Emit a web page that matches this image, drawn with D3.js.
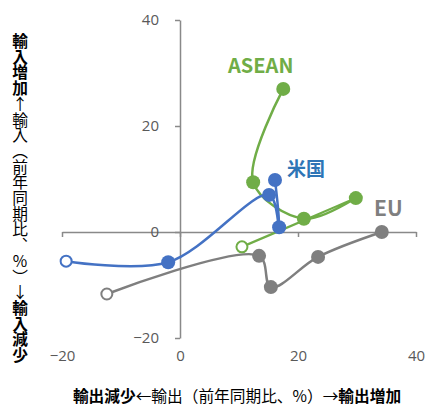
<!DOCTYPE html>
<html>
<head>
<meta charset="utf-8">
<script src="https://cdn.jsdelivr.net/npm/d3@7/dist/d3.min.js"></script>
<style>
  body { margin: 0; background: #fff; }
  svg text { font-family: "Noto Sans CJK JP", "Noto Sans", sans-serif; }
</style>
</head>
<body>
<div id="chart"></div>
<script>
// values (x: export yoy %, y: import yoy %), oldest first
const euX = [-12.4, 13.4, 15.4, 23.4, 34.2];
const euY = [-11.7, -4.5, -10.4, -4.7, 0.0];

const aseanX = [10.5, 29.8, 21.0, 12.4, 17.5];
const aseanY = [-2.8, 6.4, 2.5, 9.4, 27.0];

const usX = [-19.3, -2.0, 15.1, 16.8, 16.1];
const usY = [-5.5, -5.7, 7.0, 0.9, 9.8];

const ticks = [-20, 0, 20, 40];

const series = [
    { name: "EU", xs: euX, ys: euY, color: "#7f7f7f", label: "#7f7f7f", lx: 374, ly: 216, size: 21 },
    { name: "ASEAN", xs: aseanX, ys: aseanY, color: "#70ad47", label: "#70ad47", lx: 228, ly: 73, size: 20 },
    { name: "米国", xs: usX, ys: usY, color: "#4472c4", label: "#2e75b6", lx: 287, ly: 176, size: 19 }
];

const width = 426, height = 407;

const x = d3.scaleLinear().domain([-20, 40]).range([62, 416]);
const y = d3.scaleLinear().domain([-20, 40]).range([338, 20]);

const svg = d3.select("#chart").append("svg")
    .attr("width", width)
    .attr("height", height);

// x axis line through y = 0, ticks pointing down
svg.append("g")
    .attr("transform", "translate(0," + y(0) + ")")
    .call(d3.axisBottom(x).tickValues(ticks).tickSize(5).tickSizeOuter(0).tickFormat(""));

// x tick labels sit below the plot
const xLabels = svg.append("g")
    .attr("transform", "translate(0," + y(-20) + ")")
    .call(d3.axisBottom(x).tickValues(ticks).tickSize(0).tickPadding(12));
xLabels.select(".domain").remove();

// y axis line through x = 0
svg.append("g")
    .attr("transform", "translate(" + x(0) + ",0)")
    .call(d3.axisLeft(y).tickValues(ticks).tickSize(5).tickSizeOuter(0).tickPadding(16));

svg.selectAll(".domain, .tick line")
    .attr("stroke", "#898989")
    .attr("stroke-width", 1.5);
svg.selectAll(".tick text")
    .attr("fill", "#595959")
    .style("font-size", "15px")
    .style("font-family", "'Open Sans', 'Noto Sans', sans-serif");

const line = d3.line()
    .x(d => x(d[0]))
    .y(d => y(d[1]))
    .curve(d3.curveCatmullRom.alpha(0.5));

series.forEach(function (s) {
    const pts = s.xs.map((v, i) => [v, s.ys[i]]);

    svg.append("path")
        .attr("d", line(pts))
        .attr("fill", "none")
        .attr("stroke", s.color)
        .attr("stroke-width", 2.5);

    svg.selectAll(null)
        .data(pts)
        .enter().append("circle")
        .attr("cx", d => x(d[0]))
        .attr("cy", d => y(d[1]))
        .attr("r", (d, i) => i === 0 ? 5.5 : 7)
        .attr("fill", (d, i) => i === 0 ? "#fff" : s.color)
        .attr("stroke", s.color)
        .attr("stroke-width", (d, i) => i === 0 ? 2 : 0);

    svg.append("text")
        .attr("x", s.lx)
        .attr("y", s.ly)
        .attr("fill", s.label)
        .style("font-size", s.size + "px")
        .style("font-weight", "bold")
        .text(s.name);
});

// axis titles
const yTitle = svg.append("text")
    .attr("x", 20)
    .attr("y", 33)
    .attr("fill", "#000")
    .style("writing-mode", "vertical-rl")
    .style("text-orientation", "upright")
    .style("font-size", "15.7px");
yTitle.append("tspan").style("font-weight", "bold").text("輸入増加");
yTitle.append("tspan").text("↑輸入（前年同期比、%）↓");
yTitle.append("tspan").style("font-weight", "bold").text("輸入減少");

const xTitle = svg.append("text")
    .attr("x", 237)
    .attr("y", 402)
    .attr("text-anchor", "middle")
    .attr("fill", "#000")
    .style("font-size", "15.7px");
xTitle.append("tspan").style("font-weight", "bold").text("輸出減少");
xTitle.append("tspan").text("←輸出（前年同期比、%）→");
xTitle.append("tspan").style("font-weight", "bold").text("輸出増加");
</script>
</body>
</html>
